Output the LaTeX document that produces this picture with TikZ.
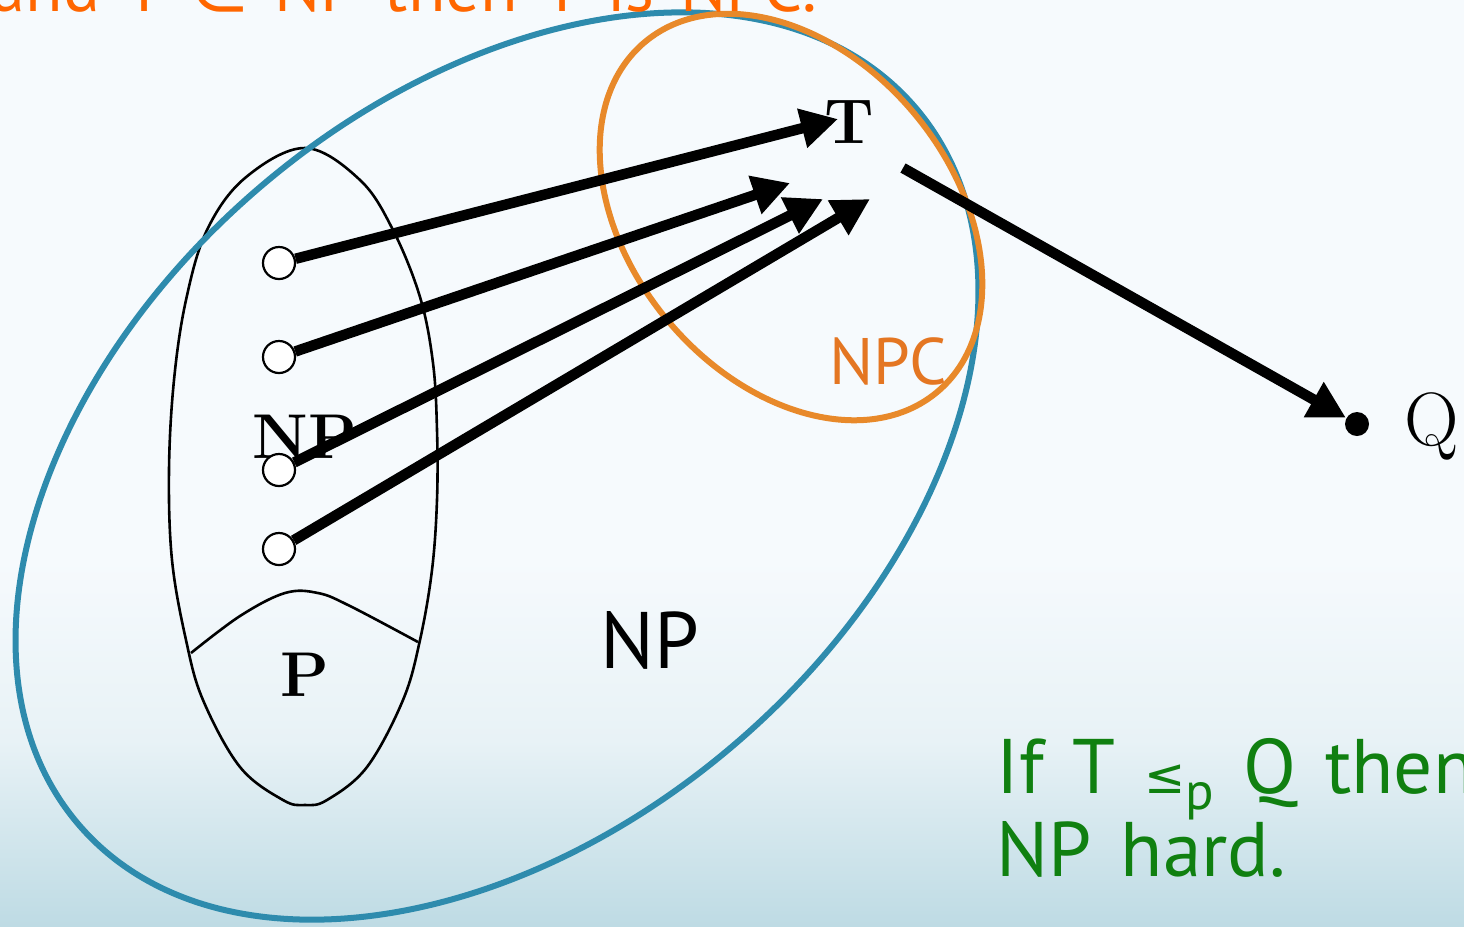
\documentclass[tikz,border=0pt]{standalone}
\usepackage{fontspec}
\newfontfamily\comicfont[WordSpace=1.4]{PT Sans}
\newfontfamily\symbolfont{DejaVu Sans}
\usetikzlibrary{positioning,arrows.meta}
\definecolor{npblue}{RGB}{46,139,173}
\definecolor{npcorange}{RGB}{232,137,42}
\definecolor{npctext}{RGB}{228,118,34}
\definecolor{slideorange}{RGB}{255,102,0}
\definecolor{hardgreen}{RGB}{16,128,16}
\definecolor{bgtop}{RGB}{246,250,253}
\definecolor{bgmid}{RGB}{232,242,246}
\definecolor{bgbottom}{RGB}{190,219,228}

\tikzset{
  reduction/.style={line width=0.105cm, -{Triangle[length=0.37cm,width=0.38cm]}},
  member/.style={circle, draw, fill=white, line width=0.022cm, minimum size=0.32cm, inner sep=0pt},
  setlabel/.style={font=\bfseries\fontsize{18}{18}\selectfont, inner sep=0pt},
  slidetext/.style={font=\comicfont\fontsize{22}{23.6}\selectfont, inner sep=0pt},
}

\begin{document}
\begin{tikzpicture}[x=0.01cm, y=-0.01cm]
  \useasboundingbox (0,0) rectangle (1464,926);
  \clip (0,0) rectangle (1464,926);
  % Background
  \fill[bgtop] (0,0) rectangle (1464,926);
  \shade[top color=bgtop, bottom color=bgmid] (0,560) rectangle (1464,740);
  \shade[top color=bgmid, bottom color=bgbottom] (0,740) rectangle (1464,926);

  % Parameters
  \def\cx{497}        % centre of the NP ellipse
  \def\cy{466}
  \def\ox{791}        % centre of the NPC ellipse
  \def\oy{217}

  % Inner set drawn by hand
  \draw[line width=0.026cm] plot[smooth cycle, tension=0.6] coordinates {
    (305,148) (360,180) (393,230) (420,297) (433,363) (437,430) (437,500)
    (432,570) (420,640) (403,700) (367,767) (327,800) (305,805) (283,800)
    (240,767) (203,700) (186,640) (172,560) (169,470) (174,380) (186,300)
    (207,230) (245,178)};
  \draw[line width=0.026cm] plot[smooth, tension=0.6] coordinates {
    (191,653) (240,616) (285,593) (318,593) (350,606) (418,642)};

  % NP ellipse
  \draw[npblue, line width=0.06cm, rotate around={40.6:(\cx,\cy)}]
    (\cx,\cy) ellipse [x radius=551, y radius=366];
  % NPC ellipse
  \draw[npcorange, line width=0.06cm, rotate around={-50.2:(\ox,\oy)}]
    (\ox,\oy) ellipse [x radius=228, y radius=161];

  % Labels
  \node[setlabel] (tprob) at (849,122) {T};
  \node[setlabel] (nplabel) at (305,437) {NP};
  \node[setlabel] (plabel) at (305,675) {P};
  \node[slidetext, font=\comicfont\fontsize{18.7}{18.7}\selectfont, text=npctext] (npc) at (888,361) {NPC};
  \node[slidetext, font=\comicfont\fontsize{22.8}{22.8}\selectfont] (np) at (650,640) {NP};

  % Problems in NP
  \node[member] (p1) at (279,263) {};
  \node[member] (p2) at (279,357) {};
  \node[member] (p3) at (279,470) {};
  \node[member] (p4) at (279,549) {};
  \coordinate (t1) at (838,119);
  \coordinate (t2) at (790,183);
  \coordinate (t3) at (823,199);
  \coordinate (t4) at (870,199);
  \foreach \i in {1,...,4} {
    \draw[reduction] (p\i) -- (t\i);
  }

  % T reduces to Q
  \coordinate (tout) at (903,168);
  \node[circle, fill=black, minimum size=0.24cm, inner sep=0pt] (qdot) at (1357,424) {};
  \node[anchor=west, inner sep=0pt, font=\fontsize{21.5}{21.5}\selectfont] (qlabel) at (1404,426) {Q};
  \draw[reduction] (tout) -- (qdot);

  % Slide text
  \node[slidetext, font=\comicfont\fontsize{19.5}{19.5}\selectfont, anchor=base east, text=slideorange] (headline) at (818,11)
    {and T {\symbolfont ∈} NP then T is NPC.};
  \node[slidetext, anchor=north west, align=left, text=hardgreen] (hard) at (996,738)
    {If T {\symbolfont\fontsize{14}{14}\selectfont ≤}{\fontsize{15}{15}\selectfont\raisebox{-0.3em}{p}} Q then\\NP hard.};
\end{tikzpicture}
\end{document}
